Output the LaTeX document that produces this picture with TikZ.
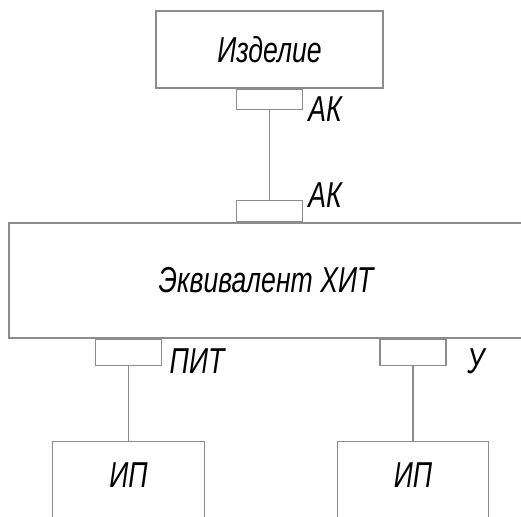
\documentclass[tikz,border=0pt]{standalone}
\usepackage{fontspec}
\newfontfamily\gostfont[FakeStretch=0.74]{Liberation Sans}
\usepackage{tikz}
\usetikzlibrary{calc}

\begin{document}
\begin{tikzpicture}[x=1pt, y=1pt]
\tikzstyle{main}=[rectangle, draw=black!45, line width=1.2pt, inner sep=0pt, font=\gostfont\itshape\fontsize{36}{36}\selectfont]
\tikzstyle{port}=[main, minimum width=66, minimum height=20]
\tikzstyle{connect}=[draw=black!45, line width=1.2pt]
\tikzstyle{lbl}=[inner sep=0pt, font=\gostfont\itshape\fontsize{36}{36}\selectfont]

  \useasboundingbox (0,0) rectangle (521,516);
  \clip (0,0) rectangle (521,516);

  % blocks
  \node[main, minimum width=227, minimum height=77] (izd) at (269.5,466.5) {Изделие};
  \node[main, minimum width=514, minimum height=115] (hit) at (266,235.5) {Эквивалент ХИТ};
  \node[main, minimum width=152, minimum height=100, anchor=north] (ip1) at (128.5,75) {};
  \node[main, minimum width=151, minimum height=100, anchor=north] (ip2) at (413,75) {};

  % ports
  \node[port, anchor=north] (izdport) at (izd.south) {};
  \node[port, anchor=south, minimum height=21] (hitport) at (izdport.center |- hit.north) {};
  \node[port, anchor=north, minimum height=26] (pitport) at (ip1.north |- hit.south) {};
  \node[port, anchor=north, minimum height=26] (uport) at (ip2.north |- hit.south) {};

  % port names
  \node[lbl] (akizd) at (325,406.5) {АК};
  \node[lbl] (akhit) at (325,321) {АК};
  \node[lbl] (pit) at (197,154.5) {ПИТ};
  \node[lbl] (u) at (476,154.5) {У};
  \node[lbl] at ([yshift=-34.5]ip1.north) {ИП};
  \node[lbl] at ([yshift=-34.5]ip2.north) {ИП};

  % links
  \path (izdport) edge [connect] (hitport);
  \path (pitport) edge [connect] (ip1);
  \path (uport) edge [connect] (ip2);

\end{tikzpicture}
\end{document}
